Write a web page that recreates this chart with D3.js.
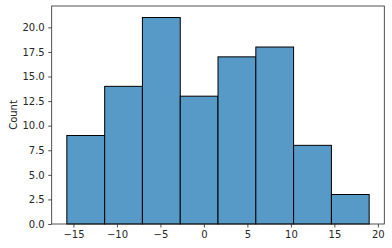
<!DOCTYPE html>
<html><head><meta charset="utf-8">
<script src="https://cdn.jsdelivr.net/npm/d3@7"></script>
<style>body{margin:0;background:#fff}svg{display:block}text{font-family:"DejaVu Sans",sans-serif}</style>
</head><body><svg id="c" width="392" height="248"></svg>
<script>
const binEdges = [-15.76, -11.41, -7.07, -2.72, 1.62, 5.97, 10.31, 14.66, 19.0];
const counts = [9, 14, 21, 13, 17, 18, 8, 3];
const xTicks = [-15, -10, -5, 0, 5, 10, 15, 20];
const yTicks = [0, 2.5, 5, 7.5, 10, 12.5, 15, 17.5, 20];

const svg = d3.select("#c");
const L = 51.7, R = 384.3, T = 6, B = 224;
const x = d3.scaleLinear().domain([-17.5, 20.74]).range([L, R]);
const y = d3.scaleLinear().domain([0, 22.05]).range([B, T + 1.2]);

const bins = counts.map((c, i) => ({x0: binEdges[i], x1: binEdges[i + 1], c}));
svg.selectAll("rect.bar").data(bins).join("rect")
  .attr("class", "bar")
  .attr("x", d => x(d.x0)).attr("width", d => x(d.x1) - x(d.x0))
  .attr("y", d => y(d.c)).attr("height", d => y(0) - y(d.c))
  .attr("fill", "rgb(87,153,199)").attr("stroke", "#000").attr("stroke-width", 1);

const xa = svg.append("g").attr("transform", `translate(0,${B})`)
  .call(d3.axisBottom(x).tickValues(xTicks).tickFormat(d => d < 0 ? "\u2212" + Math.abs(d) : d).tickSize(3.5).tickPadding(3.5));
const ya = svg.append("g").attr("transform", `translate(${L},0)`)
  .call(d3.axisLeft(y).tickValues(yTicks).tickFormat(d3.format(".1f")).tickSize(3.5).tickPadding(3.5));
[xa, ya].forEach(a => {
  a.select(".domain").remove();
  a.selectAll("line").attr("stroke", "#262626").attr("stroke-width", 0.8);
  a.selectAll("text").attr("fill", "#262626").style("font-size", "10px");
});
svg.append("rect").attr("x", L).attr("y", T).attr("width", R - L).attr("height", B - T)
  .attr("fill", "none").attr("stroke", "#262626").attr("stroke-width", 0.8);
svg.append("text").attr("transform", `translate(16.5,${(T + B) / 2}) rotate(-90)`)
  .attr("text-anchor", "middle").attr("fill", "#262626").style("font-size", "10px").text("Count");
</script></body></html>
